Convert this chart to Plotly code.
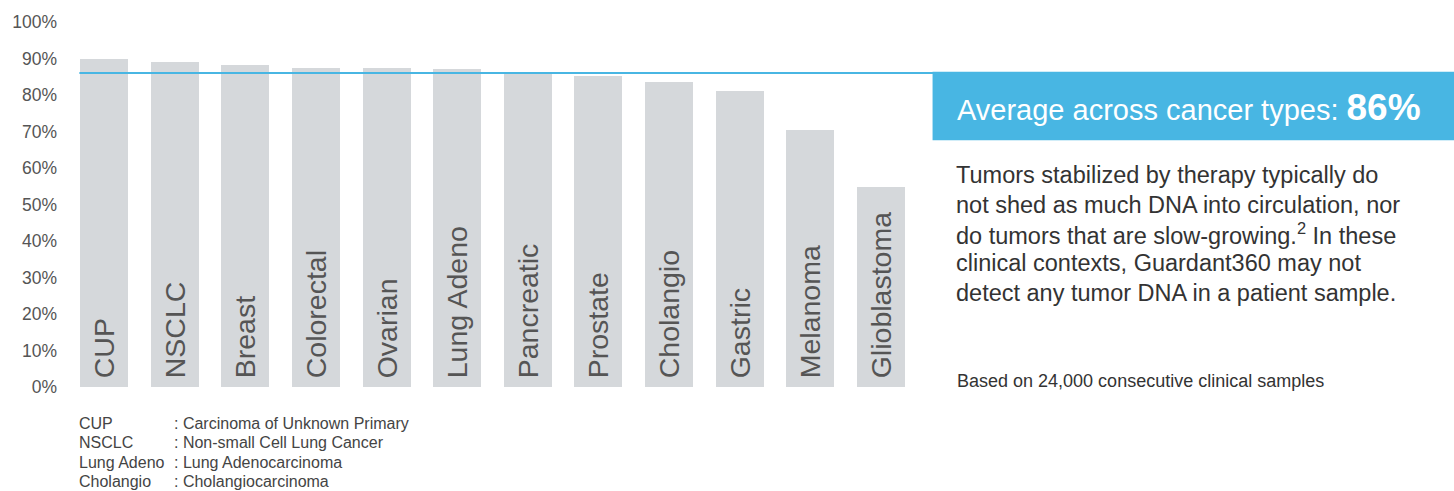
import plotly.graph_objects as go

categories = ["CUP", "NSCLC", "Breast", "Colorectal", "Ovarian", "Lung Adeno",
              "Pancreatic", "Prostate", "Cholangio", "Gastric", "Melanoma", "Glioblastoma"]
values = [90, 89, 88.3, 87.5, 87.5, 87.2, 86, 85.3, 83.7, 81.2, 70.3, 54.8]
average = 86
y_ticks = [0, 10, 20, 30, 40, 50, 60, 70, 80, 90, 100]
y_tick_labels = [f"{t}%" for t in y_ticks]

abbr = ["CUP", "NSCLC", "Lung Adeno", "Cholangio"]
abbr_full = [": Carcinoma of Unknown Primary", ": Non-small Cell Lung Cancer",
             ": Lung Adenocarcinoma", ": Cholangiocarcinoma"]

paragraph_lines = [
    "Tumors stabilized by therapy typically do",
    "not shed as much DNA into circulation, nor",
    "do tumors that are slow-growing.<sup>2</sup> In these",
    "clinical contexts, Guardant360 may not",
    "detect any tumor DNA in a patient sample.",
]

W, H = 1454, 491
L, R, T, B = 67.6, 916.4, 20, 387
pw, ph = R - L, B - T

def px(x):
    return (x - L) / pw

def py(y):
    return (B - y) / ph

FONT = "Liberation Sans, Arial, sans-serif"
BLUE = "#48b6e3"

fig = go.Figure()
fig.add_trace(go.Bar(
    x=categories, y=values, width=0.68,
    marker=dict(color="#d5d8db", line=dict(width=0)),
    text=["\u2009" + c for c in categories], textposition="inside", insidetextanchor="start",
    textangle=-90, textfont=dict(size=28.5, color="#555555", family=FONT),
    constraintext="none", hoverinfo="skip",
))

shapes = [
    dict(type="line", xref="paper", yref="y", x0=px(78), x1=px(934), y0=average, y1=average,
         line=dict(color=BLUE, width=2)),
    dict(type="rect", xref="paper", yref="paper", x0=px(933), x1=px(W + 5), y0=py(70), y1=py(139),
         fillcolor=BLUE, line=dict(width=0), layer="below"),
]

annotations = [
    dict(xref="paper", yref="paper", x=px(955), y=py(106), xanchor="left", yanchor="middle",
         text=f"Average across cancer types: <b style='font-size:37px'>{average}%</b>",
         showarrow=False, font=dict(size=29, color="white", family=FONT)),
    dict(xref="paper", yref="paper", x=px(955), y=py(381), xanchor="left", yanchor="middle",
         text="Based on 24,000 consecutive clinical samples",
         showarrow=False, font=dict(size=18, color="#333333", family=FONT)),
]
for i, line in enumerate(paragraph_lines):
    annotations.append(dict(xref="paper", yref="paper", x=px(954), y=py(174 + 29.5 * i),
                            xanchor="left", yanchor="middle", text=line, showarrow=False,
                            font=dict(size=23.5, color="#333333", family=FONT)))
for i, (a, f) in enumerate(zip(abbr, abbr_full)):
    yy = py(423.5 + 19.5 * i)
    annotations.append(dict(xref="paper", yref="paper", x=px(76), y=yy, xanchor="left",
                            yanchor="middle", text=a, showarrow=False,
                            font=dict(size=16, color="#444444", family=FONT)))
    annotations.append(dict(xref="paper", yref="paper", x=px(171), y=yy, xanchor="left",
                            yanchor="middle", text=f, showarrow=False,
                            font=dict(size=16, color="#444444", family=FONT)))

fig.update_layout(
    width=W, height=H,
    margin=dict(l=L, r=W - R, t=T, b=H - B, pad=0),
    paper_bgcolor="white", plot_bgcolor="white",
    showlegend=False, bargap=0,
    shapes=shapes, annotations=annotations,
    font=dict(family=FONT),
    xaxis=dict(showticklabels=False, showgrid=False, zeroline=False, showline=False,
               range=[-0.5, 11.5], fixedrange=True),
    yaxis=dict(range=[0, 100], tickvals=y_ticks, ticktext=y_tick_labels, showgrid=False,
               zeroline=False, showline=False, ticks="", ticklabelstandoff=11,
               tickfont=dict(size=17.5, color="#555555", family=FONT), fixedrange=True),
)

fig.write_html("out.html", config={"displayModeBar": False},
               post_script="document.body.style.margin='0';document.body.style.padding='0';")
